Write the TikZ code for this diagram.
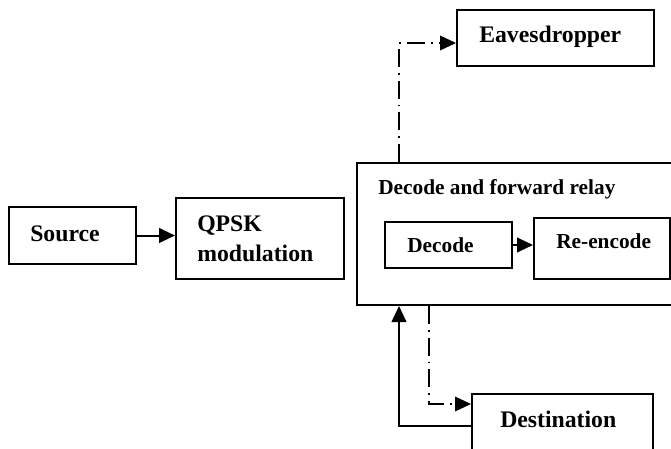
\documentclass[tikz,border=0pt]{standalone}
\usepackage{fontspec}
\setmainfont{Liberation Serif}
\usetikzlibrary{arrows.meta}
\usetikzlibrary{calc}

\tikzset{
  blk/.style={draw, line width=1.5pt, rectangle, inner sep=0pt},
  lbl/.style={inner sep=0pt, font=\fontsize{17.8}{22.5}\selectfont\bfseries},
  slbl/.style={inner sep=0pt, font=\fontsize{16}{19}\selectfont\bfseries},
  conn/.style={line width=1.5pt},
  arr/.style={line width=1.5pt, -{Triangle[length=12pt,width=11pt]}},
  dd/.style={line width=1.1pt, dash pattern=on 13.5pt off 4.5pt on 1.3pt off 4.5pt, -{Triangle[length=12pt,width=11pt]}}
}

\begin{document}
\begin{tikzpicture}[x=0.75pt,y=0.75pt,yscale=-1,xscale=1]
\useasboundingbox (0,0) rectangle (671,449);
\clip (0,0) rectangle (671,449);

%Blocks
\node (source) [blk, minimum width=95.25pt, minimum height=42.75pt] at (72.5,235.5) {};
\node (qpsk) [blk, minimum width=126pt, minimum height=60.75pt] at (260,238.5) {};
\node (relay) [blk, minimum width=249.75pt, minimum height=106.5pt] at (523.5,234) {};
\node (decode) [blk, minimum width=95.25pt, minimum height=34.5pt] at (448.5,245) {};
\node (reencode) [blk, minimum width=102pt, minimum height=45.75pt] at (602,248.5) {};
\node (eaves) [blk, minimum width=147.75pt, minimum height=42pt] at (555.5,38) {};
\node (dest) [blk, minimum width=135.75pt, minimum height=48pt] at (562.5,426) {};

% Text Nodes
\node (sourcetxt) [lbl, anchor=base west] at (30,241.5) {Source};
\node (qpsktxt) [lbl, anchor=north west, align=left] at (197,216) {QPSK\\modulation};
\node (relaytxt) [slbl, anchor=base west] at (378,195) {Decode and forward relay};
\node (decodetxt) [slbl, anchor=base west] at (407,252) {Decode};
\node (reencodetxt) [slbl, anchor=base west] at (556,248) {Re-encode};
\node (eavestxt) [lbl, anchor=base west] at (479,43) {Eavesdropper};
\node (desttxt) [lbl, anchor=base west] at (500,427) {Destination};

%Connectors
\draw [arr] (source.east) -- (source.east -| qpsk.west);
\draw [conn] ($(qpsk.east)+(0,-4)$) -- ($(qpsk.east)+(0,-4)$ -| relay.west);
\draw [arr] (decode.east) -- (decode.east -| reencode.west);
\draw [dd] ($(relay.north west)+(43,0)$) |- ($(eaves.west)+(0,5)$);
\draw [dd] ($(relay.south west)+(73,0)$) |- ($(dest.west)+(0,-22)$);
\draw [arr] (dest.west) -| ($(relay.south west)+(43,0)$);

\end{tikzpicture}
\end{document}
